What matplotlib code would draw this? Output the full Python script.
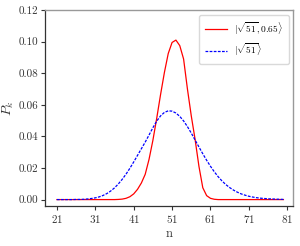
import numpy as np
import matplotlib
matplotlib.use("Agg")
import matplotlib.pyplot as plt

plt.rcParams["font.family"] = "serif"
plt.rcParams["font.serif"] = ["cmr10", "DejaVu Serif"]
plt.rcParams["mathtext.fontset"] = "cm"
plt.rcParams["axes.formatter.use_mathtext"] = True

# Photon number n
n = np.arange(21, 81)

# P_k for the squeezed coherent state |sqrt(51), 0.65>
p_squeezed = [
    0.0000, 0.0000, 0.0000, 0.0000, 0.0000, 0.0000, 0.0000, 0.0000, 0.0000, 0.0000,  # 21-30
    0.0000, 0.0000, 0.0000, 0.0000, 0.0000, 0.0000, 0.0001, 0.0003, 0.0008, 0.0018,  # 31-40
    0.0036, 0.0065, 0.0105, 0.0160, 0.0255, 0.0375, 0.0515, 0.0665, 0.0805, 0.0925,  # 41-50
    0.0995, 0.1010, 0.0975, 0.0890, 0.0700, 0.0530, 0.0380, 0.0210, 0.0075, 0.0025,  # 51-60
    0.0008, 0.0002, 0.0000, 0.0000, 0.0000, 0.0000, 0.0000, 0.0000, 0.0000, 0.0000,  # 61-70
    0.0000, 0.0000, 0.0000, 0.0000, 0.0000, 0.0000, 0.0000, 0.0000, 0.0000, 0.0000,  # 71-80
]

# P_k for the coherent state |sqrt(51)>
p_coherent = [
    0.0000, 0.0000, 0.0000, 0.0000, 0.0000, 0.0001, 0.0001, 0.0002, 0.0004, 0.0007,  # 21-30
    0.0011, 0.0017, 0.0026, 0.0038, 0.0054, 0.0074, 0.0099, 0.0128, 0.0161, 0.0198,  # 31-40
    0.0238, 0.0280, 0.0322, 0.0364, 0.0409, 0.0455, 0.0497, 0.0530, 0.0552, 0.0562,  # 41-50
    0.0560, 0.0548, 0.0527, 0.0498, 0.0462, 0.0421, 0.0377, 0.0333, 0.0290, 0.0249,  # 51-60
    0.0211, 0.0176, 0.0145, 0.0118, 0.0095, 0.0076, 0.0060, 0.0047, 0.0036, 0.0028,  # 61-70
    0.0021, 0.0016, 0.0012, 0.0009, 0.0007, 0.0005, 0.0004, 0.0003, 0.0002, 0.0001,  # 71-80
]

xticks = [21, 31, 41, 51, 61, 71, 81]
yticks = [0.00, 0.02, 0.04, 0.06, 0.08, 0.10, 0.12]

fig = plt.figure(figsize=(3.0, 2.46), dpi=100)
ax = fig.add_axes([0.15, 0.163, 0.828, 0.796])

ax.plot(n, p_squeezed, color="red", lw=0.9, label=r"$|\sqrt{51}, 0.65\rangle$")
ax.plot(n, p_coherent, color="blue", lw=0.9, ls=(0, (2.2, 1.1)), label=r"$|\sqrt{51}\rangle$")

ax.set_xlim(17.9, 82.6)
ax.set_ylim(-0.004, 0.12)
ax.set_xticks(xticks)
ax.set_yticks(yticks)
ax.set_yticklabels([f"{v:.2f}" for v in yticks])

ax.set_xlabel("n", fontsize=9, color="0.2", labelpad=2)
ax.set_ylabel(r"$P_k$", fontsize=10, color="0.2", labelpad=2)

ax.tick_params(axis="both", labelsize=8, length=3, width=0.8, colors="0.2", pad=2)
for side in ["left", "bottom"]:
    ax.spines[side].set_color("0.2")
    ax.spines[side].set_linewidth(0.9)
for side in ["top", "right"]:
    ax.spines[side].set_color("0.6")
    ax.spines[side].set_linewidth(1.0)

ax.legend(loc="upper right", fontsize=6.8, handlelength=2.3, borderpad=0.6,
          labelspacing=0.6, framealpha=1.0, edgecolor="0.85")

fig.savefig("out.png", dpi=100)
